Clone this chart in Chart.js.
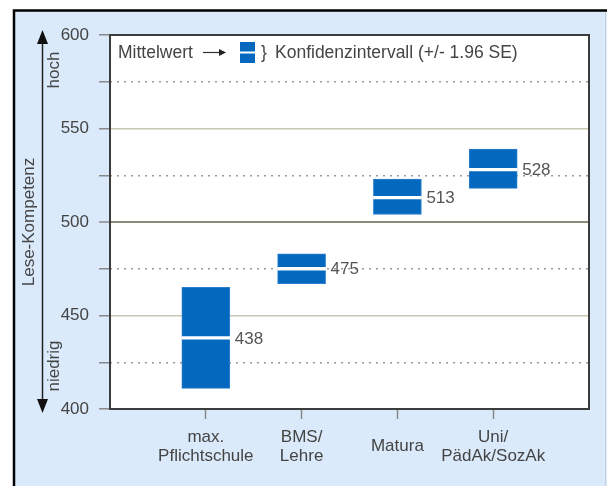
<!DOCTYPE html>
<html>
<head>
<meta charset="utf-8">
<script src="https://cdn.jsdelivr.net/npm/chart.js@4"></script>
<style>
  html, body { margin: 0; padding: 0; background: #fff; }
  canvas { display: block; }
</style>
</head>
<body>
<canvas id="canvas" width="607" height="486"></canvas>
<script>
const categories = [['max.', 'Pflichtschule'], ['BMS/', 'Lehre'], 'Matura', ['Uni/', 'PädAk/SozAk']];
const means = [438, 475, 513, 528];
const lower = [411, 467, 504, 518];
const upper = [465, 483, 523, 539];
const yTicks = [400, 450, 500, 550, 600];

const FONT = "'Liberation Sans', Arial, sans-serif";
Chart.defaults.font.family = FONT;
Chart.defaults.font.size = 17;
Chart.defaults.color = '#444';

// one empty slot on each side so the four groups sit at 1..4 of 0..5
const labels = ['', ...categories, ''];
const ciData = [null, ...lower.map((lo, i) => [lo, upper[i]]), null];
const meanData = [null, ...means.map(m => [m - 0.7, m + 0.7]), null];

const panel = {
    id: 'panel',
    beforeDraw(chart) {
        const c = chart.ctx, a = chart.chartArea;
        c.save();
        c.fillStyle = '#fff';
        c.fillRect(0, 0, chart.width, chart.height);
        c.fillStyle = '#dbeafb';
        c.fillRect(14, 10, chart.width - 14, chart.height - 10);
        c.strokeStyle = '#000';
        c.lineWidth = 2.5;
        c.beginPath();
        c.moveTo(14, chart.height); c.lineTo(14, 10.5); c.lineTo(chart.width, 10.5);
        c.stroke();
        c.strokeStyle = '#c5d2de';
        c.lineWidth = 1;
        c.beginPath(); c.moveTo(605.5, 12); c.lineTo(605.5, chart.height); c.stroke();
        c.fillStyle = '#fff';
        c.fillRect(a.left, a.top, a.width, a.height);
        c.restore();
    },
    beforeDatasetsDraw(chart) {
        const c = chart.ctx, a = chart.chartArea;
        c.save();
        c.strokeStyle = '#3c3c3c';
        c.lineWidth = 2;
        c.strokeRect(a.left, a.top, a.width, a.height);
        c.restore();
    }
};

const valueLabels = {
    id: 'valueLabels',
    afterDatasetsDraw(chart) {
        const c = chart.ctx;
        const meta = chart.getDatasetMeta(1);
        const y = chart.scales.y;
        c.save();
        c.font = '17px ' + FONT;
        c.fillStyle = '#555';
        c.textBaseline = 'middle';
        meta.data.forEach((bar, i) => {
            if (i === 0 || i === labels.length - 1) return;
            const m = means[i - 1];
            c.fillText(String(m), bar.x + bar.width / 2 + 5, y.getPixelForValue(m) + 1);
        });
        c.restore();
    }
};

const annotations = {
    id: 'annotations',
    afterDraw(chart) {
        const c = chart.ctx;
        c.save();
        // hoch / niedrig arrow
        c.strokeStyle = '#222';
        c.fillStyle = '#111';
        c.lineWidth = 1.5;
        c.beginPath(); c.moveTo(42.5, 40); c.lineTo(42.5, 402); c.stroke();
        c.beginPath(); c.moveTo(42.5, 30); c.lineTo(37, 44); c.lineTo(48, 44); c.closePath(); c.fill();
        c.beginPath(); c.moveTo(42.5, 413); c.lineTo(37, 399); c.lineTo(48, 399); c.closePath(); c.fill();
        c.font = '17px ' + FONT;
        c.fillStyle = '#444';
        c.textAlign = 'center';
        c.textBaseline = 'middle';
        [['hoch', 70], ['niedrig', 366]].forEach(([t, yy]) => {
            c.save();
            c.translate(54, yy);
            c.rotate(-Math.PI / 2);
            c.fillText(t, 0, 0);
            c.restore();
        });
        // legend line at the top of the plot
        c.textAlign = 'left';
        c.font = '17.5px ' + FONT;
        c.fillText('Mittelwert', 118, 53);
        c.strokeStyle = '#333';
        c.lineWidth = 1.2;
        c.beginPath(); c.moveTo(203, 52.5); c.lineTo(221, 52.5); c.stroke();
        c.fillStyle = '#222';
        c.beginPath(); c.moveTo(226, 52.5); c.lineTo(219, 49); c.lineTo(219, 56); c.closePath(); c.fill();
        c.fillStyle = '#0368be';
        c.fillRect(240, 42, 15, 21);
        c.fillStyle = '#fff';
        c.fillRect(240, 51.5, 15, 2);
        c.fillStyle = '#444';
        c.fillText('}', 261, 53);
        c.fillText('Konfidenzintervall (+/- 1.96 SE)', 275, 53);
        c.restore();
    }
};

const ctx = document.getElementById('canvas').getContext('2d');

new Chart(ctx, {
    type: 'bar',
    data: {
        labels: labels,
        datasets: [{
            label: 'Mittelwert',
            data: meanData,
            backgroundColor: '#fff',
            borderWidth: 0,
            barThickness: 48,
            grouped: false,
            order: 0,
        }, {
            label: 'Konfidenzintervall',
            data: ciData,
            backgroundColor: '#0368be',
            borderColor: '#2a80cf',
            borderWidth: 1,
            borderSkipped: false,
            barThickness: 48,
            grouped: false,
            order: 1,
        }]
    },
    options: {
        responsive: false,
        animation: false,
        layout: { padding: { left: 14, top: 35, right: 18, bottom: 0 } },
        plugins: {
            legend: { display: false },
            tooltip: { enabled: false }
        },
        scales: {
            x: {
                offset: false,
                afterFit: s => { s.height = 77; },
                border: { display: false },
                grid: {
                    offset: false,
                    drawOnChartArea: false,
                    tickLength: 10,
                    tickColor: c => (c.index === 0 || c.index === labels.length - 1) ? 'rgba(0,0,0,0)' : '#888',
                    tickWidth: 1.5,
                },
                ticks: {
                    autoSkip: false,
                    maxRotation: 0,
                    crossAlign: 'center',
                    padding: 18,
                    color: '#444',
                    font: { size: 17, lineHeight: 1.15 },
                }
            },
            y: {
                min: 400,
                max: 600,
                afterFit: s => { s.width = 96; },
                border: {
                    display: false,
                    dash: c => (c.tick && c.tick.value % 50 !== 0) ? [2, 5] : [],
                },
                grid: {
                    color: c => {
                        const v = c.tick.value;
                        if (v % 50 !== 0) return '#9a9a9a';
                        if (v === 500) return '#8a8a78';
                        return '#c8c8b2';
                    },
                    lineWidth: c => c.tick.value === 500 ? 2 : 1.5,
                    tickLength: 11,
                    tickColor: '#888',
                    tickWidth: 1.5,
                    tickBorderDash: [],
                },
                ticks: {
                    stepSize: 25,
                    padding: 10,
                    color: '#444',
                    callback: v => yTicks.includes(v) ? v : '',
                },
                title: {
                    display: true,
                    text: 'Lese-Kompetenz',
                    color: '#444',
                    padding: { top: 5, bottom: 20 },
                    font: { size: 17 },
                }
            }
        }
    },
    plugins: [panel, valueLabels, annotations]
});
</script>
</body>
</html>
